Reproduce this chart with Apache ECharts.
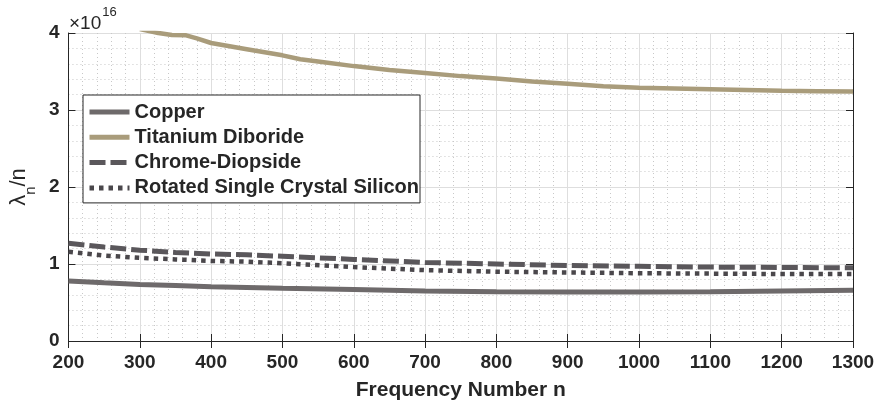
<!DOCTYPE html>
<html>
<head>
<meta charset="utf-8">
<script src="https://cdn.jsdelivr.net/npm/echarts@6/dist/echarts.min.js"></script>
<style>html,body{margin:0;padding:0;background:#fff;}#c{width:880px;height:408px;}</style>
</head>
<body>
<div id="c"></div>
<script>
// Frequency numbers and lambda_n/n values (in units of 1e16)
var nCommon = [200, 250, 300, 350, 400, 450, 500, 600, 700, 800, 900, 1000, 1100, 1200, 1300];
var copper = [0.78, 0.755, 0.735, 0.72, 0.705, 0.695, 0.685, 0.67, 0.65, 0.64, 0.635, 0.635, 0.64, 0.65, 0.66];
var chromeDiopside = [1.27, 1.22, 1.18, 1.15, 1.13, 1.12, 1.10, 1.06, 1.02, 1.0, 0.98, 0.97, 0.96, 0.955, 0.95];
var siliconRotated = [1.16, 1.11, 1.08, 1.06, 1.04, 1.03, 1.01, 0.96, 0.92, 0.90, 0.89, 0.88, 0.875, 0.87, 0.87];
var nTitanium = [300, 326, 345, 365, 380, 400, 450, 500, 525, 550, 600, 650, 700, 750, 800, 850, 900, 950, 1000, 1050, 1100, 1150, 1200, 1250, 1300];
var titanium = [4.05, 4.0, 3.975, 3.97, 3.93, 3.87, 3.79, 3.71, 3.66, 3.63, 3.57, 3.52, 3.48, 3.44, 3.41, 3.37, 3.34, 3.31, 3.29, 3.28, 3.27, 3.26, 3.25, 3.245, 3.24];
var seriesNames = ['Copper', 'Titanium Diboride', 'Chrome-Diopside', 'Rotated Single Crystal Silicon'];
var xTicks = [200, 1300, 100];
var yTicks = [0, 4, 1];

function pairs(xs, ys) { return xs.map(function (x, i) { return [x, ys[i]]; }); }

var txt = '#262626';
var font = 'Liberation Sans, Arial, sans-serif';
var chart = echarts.init(document.getElementById('c'), null, { renderer: 'canvas' });

var axisCommon = {
  axisLine: { show: true, lineStyle: { color: txt, width: 1 } },
  axisTick: { show: true, inside: true, length: 7, lineStyle: { color: txt } },
  minorTick: { show: false, splitNumber: 5 }
};

chart.setOption({
  animation: false,
  backgroundColor: '#fff',
  textStyle: { fontFamily: font },
  grid: { left: 68, right: 27, top: 33, bottom: 67, containLabel: false },
  graphic: [{
    type: 'text', left: 69, top: 6,
    style: {
      text: '{a|×10}{b|16}',
      rich: {
        a: { fontSize: 19, fontFamily: font, fill: txt, lineHeight: 27, verticalAlign: 'bottom' },
        b: { fontSize: 13, fontFamily: font, fill: txt, lineHeight: 27, verticalAlign: 'top', padding: [0, 0, 0, 1] }
      }
    }
  }],
  legend: {
    orient: 'vertical', left: 83, top: 95,
    data: seriesNames,
    itemWidth: 40, itemHeight: 14, itemGap: 5.3,
    padding: [7, 1, 5, 4],
    backgroundColor: '#fff', borderColor: txt, borderWidth: 1, borderRadius: 0,
    textStyle: { fontSize: 20, fontWeight: 'bold', color: txt, fontFamily: font, lineHeight: 20 },
    itemStyle: { opacity: 0 },
    lineStyle: { width: 5 }
  },
  xAxis: [Object.assign({
    type: 'value', min: xTicks[0], max: xTicks[1], interval: xTicks[2], position: 'bottom',
    name: 'Frequency Number n', nameLocation: 'middle', nameGap: 39,
    nameTextStyle: { fontSize: 21, fontWeight: 'bold', color: txt, fontFamily: font },
    axisLabel: { fontSize: 19, fontWeight: 'bold', color: txt, margin: 12, fontFamily: font,
      formatter: function (v) { return String(v); } },
    splitLine: { show: true, lineStyle: { color: '#dedede', width: 1 } },
    minorSplitLine: { show: true, lineStyle: { color: '#c8c8c8', width: 1, type: [1, 3] } }
  }, axisCommon), Object.assign({
    type: 'value', min: xTicks[0], max: xTicks[1], interval: xTicks[2], position: 'top',
    axisLabel: { show: false }, splitLine: { show: false }
  }, axisCommon)],
  yAxis: [Object.assign({
    type: 'value', min: yTicks[0], max: yTicks[1], interval: yTicks[2], position: 'left',
    name: '{a|λ}{s|n}{a|/n}', nameLocation: 'middle', nameGap: 37, nameRotate: 90,
    nameTextStyle: {
      color: txt, fontFamily: font,
      rich: {
        a: { fontSize: 22, color: txt, fontFamily: font, lineHeight: 24, verticalAlign: 'bottom' },
        s: { fontSize: 15, color: txt, fontFamily: font, lineHeight: 24, verticalAlign: 'bottom', padding: [0, 0, -8, 0] }
      }
    },
    axisLabel: { fontSize: 19, fontWeight: 'bold', color: txt, margin: 9, fontFamily: font,
      formatter: function (v) { return String(v); } },
    splitLine: { show: true, lineStyle: { color: '#dedede', width: 1 } },
    minorSplitLine: { show: true, lineStyle: { color: '#c8c8c8', width: 1, type: [1, 3] } }
  }, axisCommon), Object.assign({
    type: 'value', min: yTicks[0], max: yTicks[1], interval: yTicks[2], position: 'right',
    axisLabel: { show: false }, splitLine: { show: false }
  }, axisCommon)],
  series: [
    { name: seriesNames[0], type: 'line', data: pairs(nCommon, copper), symbol: 'none', clip: true, z: 3,
      lineStyle: { color: '#6e6a6b', width: 5 }, itemStyle: { color: '#6e6a6b' } },
    { name: seriesNames[1], type: 'line', data: pairs(nTitanium, titanium), symbol: 'none', clip: true, z: 3,
      lineStyle: { color: '#a99c7b', width: 4.5 }, itemStyle: { color: '#a99c7b' } },
    { name: seriesNames[2], type: 'line', data: pairs(nCommon, chromeDiopside), symbol: 'none', clip: true, z: 3,
      lineStyle: { color: '#5a575b', width: 5, type: [16, 5] }, itemStyle: { color: '#5a575b' } },
    { name: seriesNames[3], type: 'line', data: pairs(nCommon, siliconRotated), symbol: 'none', clip: true, z: 3,
      lineStyle: { color: '#4a474b', width: 4.5, type: [4.5, 5] }, itemStyle: { color: '#4a474b' } }
  ]
});
</script>
</body>
</html>
